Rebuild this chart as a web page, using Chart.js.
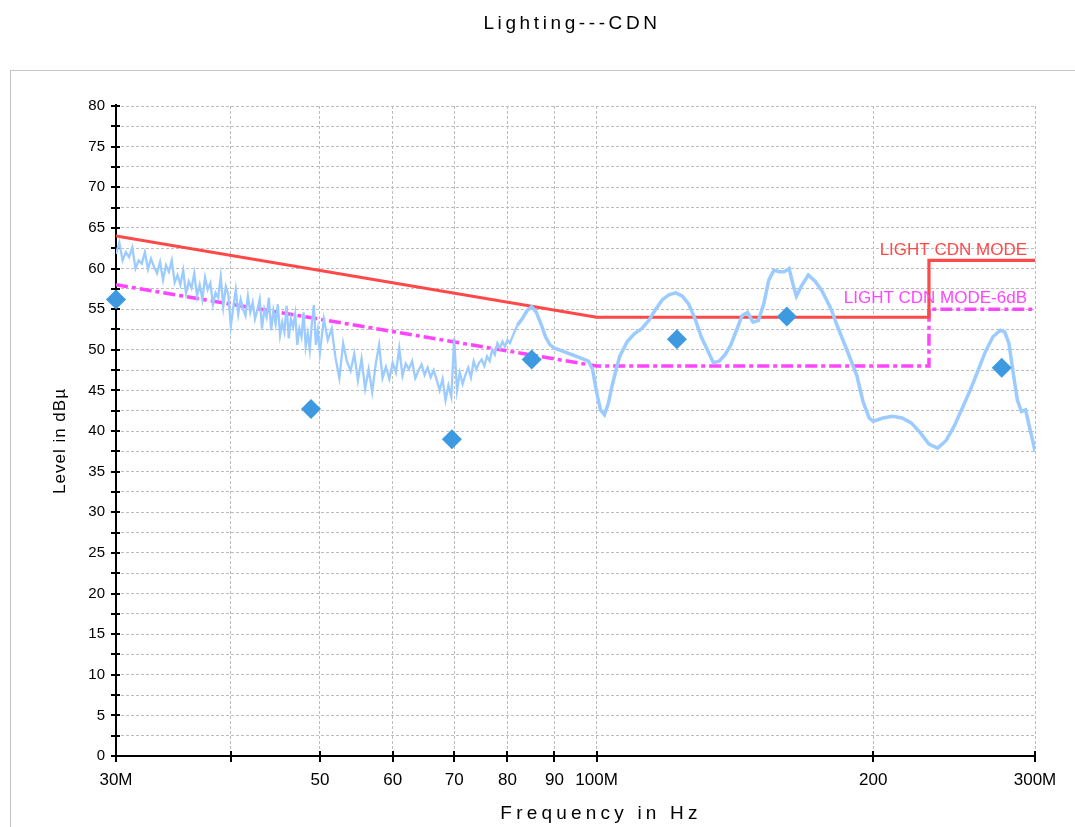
<!DOCTYPE html>
<html>
<head>
<meta charset="utf-8">
<title>Lighting---CDN</title>
<script src="https://cdn.jsdelivr.net/npm/chart.js@4.4.1/dist/chart.umd.min.js"></script>
<style>
    html, body { margin: 0; padding: 0; background: #fff; }
    #wrap { position: relative; width: 1075px; height: 827px; }
</style>
</head>
<body>
<div id="wrap"><canvas id="emc"></canvas></div>
<script>
var chartTitle = 'Lighting---CDN'
var xTitle = 'Frequency in Hz'
var yTitle = 'Level in dBµ'

// x ticks (MHz) and the text printed under them
var xTickValues = [30, 40, 50, 60, 70, 80, 90, 100, 200, 300]
var xTickLabels = ['30M', '', '50', '60', '70', '80', '90', '100M', '200', '300M']

// limit lines
var limitName = 'LIGHT CDN MODE'
var limit6Name = 'LIGHT CDN MODE-6dB'
var limitFreq = [30, 100, 230, 230, 300]
var limitLevel = [64, 54, 54, 61, 61]
var limit6Level = [58, 48, 48, 55, 55]

// final measurements (diamonds)
var finalFreq = [30.0, 48.9, 69.6, 85.0, 122.3, 161.1, 276.0]
var finalLevel = [56.2, 42.7, 39.0, 48.8, 51.3, 54.1, 47.8]

// spectrum trace
var traceFreq = [
    30, 30.25, 30.5, 30.75, 31, 31.25, 31.5, 31.75, 32, 32.25, 32.5, 32.75, 33, 33.25, 33.5, 33.75,
    34, 34.25, 34.5, 34.75, 35, 35.25, 35.5, 35.75, 36, 36.25, 36.5, 36.75, 37, 37.25, 37.5, 37.75,
    38, 38.25, 38.5, 38.75, 39, 39.25, 39.5, 39.75, 40, 40.25, 40.5, 40.75, 41, 41.25, 41.5, 41.75,
    42, 42.25, 42.5, 42.75, 43, 43.25, 43.5, 43.75, 44, 44.25, 44.5, 44.75, 45, 45.25, 45.5, 45.75,
    46, 46.25, 46.5, 46.75, 47, 47.25, 47.5, 47.75, 48, 48.25, 48.5, 48.75, 49, 49.25, 49.5, 49.75, 50,
    50.5, 51, 51.5, 52, 52.5, 53, 53.5, 54, 54.5, 55, 55.5, 56, 56.5, 57, 57.5, 58, 58.5, 59, 59.5, 60,
    60.5, 61, 61.5, 62, 62.5, 63, 63.5, 64, 64.5, 65, 65.5, 66, 66.5, 67, 67.5, 68, 68.5, 69, 69.5, 70,
    70.5, 71, 71.5, 72, 72.5, 73, 73.5, 74, 74.5, 75, 75.5, 76, 76.5, 77, 77.5, 78, 78.5, 79, 79.5, 80,
    80.5, 81, 81.5, 82,
    83, 84, 85, 86, 87, 88, 89, 90, 92, 94, 96, 98, 99, 100, 101, 102, 103, 104, 105, 106, 108, 110,
    112, 114, 116, 118, 120, 122, 124, 126, 128, 130, 132, 134, 136, 138, 140, 142, 144, 146, 148, 150,
    152, 154, 156, 158, 160, 162, 164, 165, 167, 170, 173, 176, 180, 183, 186, 189, 192, 195, 198, 200,
    205, 210, 215, 220, 225, 230, 235, 240, 245, 250, 255, 260, 265, 270, 275, 278, 281, 284, 287, 290,
    293, 296, 298, 300
]
var traceLevel = [
    61.8, 63.2, 61.0, 62.0, 61.4, 62.6, 60.0, 61.0, 60.6, 62.0, 59.9, 61.2, 60.2, 59.4, 60.8, 58.6,
    60.4, 59.6, 61.0, 58.3, 59.2, 58.0, 59.8, 56.9, 58.4, 57.6, 59.4, 56.6, 58.0, 56.2, 58.9, 57.4,
    58.2, 55.6, 57.0, 56.4, 59.0, 55.3, 57.8, 56.8, 52.9, 55.2, 57.4, 54.4, 56.2, 55.0, 54.2, 56.6,
    54.6, 55.8, 53.8, 54.9, 56.2, 52.6, 55.0, 54.0, 56.4, 52.4, 54.8, 53.2, 55.6, 51.8, 53.4, 52.2,
    55.4, 51.4, 53.8, 52.8, 54.4, 50.6, 52.6, 51.6, 54.6, 50.4, 52.0, 50.0, 53.2, 55.5, 50.6, 52.4, 49.6,
    53.8, 51.2, 52.6, 49.0, 46.5, 50.8, 48.6, 47.4, 49.5, 46.2, 48.9, 45.2, 47.6, 44.8, 48.2, 50.6, 46.5, 47.9, 46.4, 48.4,
    47.2, 50.2, 46.8, 48.3, 47.6, 48.6, 46.5, 47.4, 48.2, 46.9, 47.8, 46.6, 47.5, 46.3, 45.0, 46.4, 43.8, 45.6, 44.2, 51.4,
    45.0, 47.2, 45.8, 46.9, 47.8, 46.6, 48.6, 47.6, 48.4, 48.8, 48.0, 49.2, 48.6, 50.0, 49.4, 50.8, 50.2, 51.0, 50.4, 51.2,
    50.8, 51.6, 52.3, 53.0,
    53.8, 54.8, 55.3, 54.6, 53.2, 51.6, 50.6, 50.2, 49.8, 49.4, 49.0, 48.6, 47.6, 44.8, 42.6, 42.0, 43.4, 45.6, 47.5, 49.2, 51.0, 52.0,
    52.6, 53.6, 55.0, 56.2, 56.8, 57.0, 56.6, 55.6, 53.8, 51.6, 50.0, 48.4, 48.6, 49.4, 50.6, 52.4, 54.2, 54.6, 53.4, 53.6,
    55.6, 58.6, 59.8, 59.6, 59.6, 60.0, 57.6, 56.6, 57.8, 59.2, 58.4, 57.2, 55.0, 52.8, 50.8, 48.8, 46.8, 43.6, 41.6, 41.2,
    41.6, 41.8, 41.6, 41.0, 39.8, 38.4, 37.9, 38.8, 40.6, 42.8, 45.0, 47.4, 49.8, 51.6, 52.4, 52.2, 50.8, 47.2, 43.8, 42.4,
    42.6, 40.4, 39.0, 37.5
]

var fontFamily = '"Liberation Sans", Arial, Helvetica, sans-serif'
var red = '#ff4848'
var magenta = '#ff45ff'

function pairs(xs, ys) {
    return xs.map(function(x, i) { return { x: x, y: ys[i] } })
}

// grey frame round the plot
var framePlugin = {
    id: 'frame',
    beforeDraw: function(chart) {
        var ctx = chart.ctx
        ctx.save()
        ctx.strokeStyle = '#c4c4c4'
        ctx.lineWidth = 1
        ctx.strokeRect(10.5, 70.5, 1200, 900)
        ctx.restore()
    }
}

// black axes with ticks crossing them
var axesPlugin = {
    id: 'axes',
    beforeDatasetsDraw: function(chart) {
        var ctx = chart.ctx, a = chart.chartArea
        var xs = chart.scales.x, ys = chart.scales.y
        ctx.save()
        ctx.strokeStyle = '#000'
        ctx.lineWidth = 2
        ctx.beginPath()
        ctx.moveTo(a.left, a.top - 2)
        ctx.lineTo(a.left, a.bottom)
        ctx.lineTo(a.right, a.bottom)
        ctx.stroke()
        ctx.beginPath()
        ys.ticks.forEach(function(t) {
            var y = Math.round(ys.getPixelForValue(t.value))
            ctx.moveTo(a.left - 5, y)
            ctx.lineTo(a.left + 4, y)
        })
        xs.ticks.forEach(function(t) {
            var x = Math.round(xs.getPixelForValue(t.value))
            ctx.moveTo(x, a.bottom - 5)
            ctx.lineTo(x, a.bottom + 6)
        })
        ctx.stroke()
        ctx.restore()
    }
}

// titles and limit names
var textPlugin = {
    id: 'texts',
    afterDraw: function(chart) {
        var ctx = chart.ctx, xs = chart.scales.x, ys = chart.scales.y
        ctx.save()
        ctx.fillStyle = '#000'
        ctx.textAlign = 'center'
        ctx.textBaseline = 'middle'
        ctx.font = '19px ' + fontFamily
        ctx.letterSpacing = '3.6px'
        ctx.fillText(chartTitle, 572, 24)
        ctx.letterSpacing = '4.2px'
        ctx.fillText(xTitle, 601, 814)
        ctx.font = '17px ' + fontFamily
        ctx.letterSpacing = '1px'
        ctx.translate(60, 441)
        ctx.rotate(-Math.PI / 2)
        ctx.fillText(yTitle, 0, 0)
        ctx.restore()

        ctx.save()
        ctx.font = '17px ' + fontFamily
        ctx.textAlign = 'right'
        ctx.textBaseline = 'alphabetic'
        ctx.fillStyle = red
        ctx.fillText(limitName, xs.getPixelForValue(300) - 8, ys.getPixelForValue(61) - 5)
        ctx.fillStyle = magenta
        ctx.fillText(limit6Name, xs.getPixelForValue(300) - 8, ys.getPixelForValue(55) - 6)
        ctx.restore()
    }
}

var ctx = document.getElementById('emc').getContext('2d')
var emcChart = new Chart(ctx, {
    type: 'scatter',
    data: {
        datasets: [{
            label: 'Final',
            data: pairs(finalFreq, finalLevel),
            showLine: false,
            clip: false,
            pointStyle: 'rectRot',
            pointRadius: 10,
            pointBackgroundColor: '#3d9ae0',
            pointBorderColor: '#3d9ae0',
            pointBorderWidth: 0,
            order: 0
        }, {
            label: 'Trace',
            data: pairs(traceFreq, traceLevel),
            showLine: true,
            borderColor: '#9ccbff',
            borderWidth: 2,
            pointRadius: 0,
            tension: 0,
            segment: {
                borderWidth: function(c) { return c.p0.parsed.x >= 82 ? 3.5 : 2.3 }
            },
            order: 1
        }, {
            label: limitName,
            data: pairs(limitFreq, limitLevel),
            showLine: true,
            borderColor: red,
            borderWidth: 3.2,
            pointRadius: 0,
            order: 2
        }, {
            label: limit6Name,
            data: pairs(limitFreq, limit6Level),
            showLine: true,
            borderColor: magenta,
            borderWidth: 3.5,
            borderDash: [12, 4, 4, 4],
            pointRadius: 0,
            order: 2
        }]
    },
    options: {
        responsive: true,
        maintainAspectRatio: false,
        animation: false,
        events: [],
        layout: { padding: { left: 0, top: 106, right: 40, bottom: 0 } },
        plugins: {
            legend: { display: false },
            tooltip: { enabled: false },
            title: { display: false }
        },
        scales: {
            x: {
                type: 'logarithmic',
                min: 30,
                max: 300,
                afterBuildTicks: function(scale) {
                    scale.ticks = xTickValues.map(function(v) { return { value: v } })
                },
                afterFit: function(scale) { scale.height = 71 },
                ticks: {
                    autoSkip: false,
                    maxRotation: 0,
                    padding: 14,
                    color: '#000',
                    font: { family: fontFamily, size: 17 },
                    callback: function(value, index) { return xTickLabels[index] }
                },
                grid: { color: '#bdbdbd', lineWidth: 1, drawTicks: false },
                border: { display: false, dash: [3, 2] }
            },
            y: {
                min: 0,
                max: 80,
                afterFit: function(scale) { scale.width = 116 },
                ticks: {
                    stepSize: 2.5,
                    autoSkip: false,
                    padding: 11,
                    color: '#000',
                    font: { family: fontFamily, size: 15 },
                    callback: function(value) { return value % 5 === 0 ? String(value) : '' }
                },
                grid: { color: '#bdbdbd', lineWidth: 1, drawTicks: false },
                border: { display: false, dash: [3, 2] }
            }
        }
    },
    plugins: [framePlugin, axesPlugin, textPlugin]
})
</script>
</body>
</html>
